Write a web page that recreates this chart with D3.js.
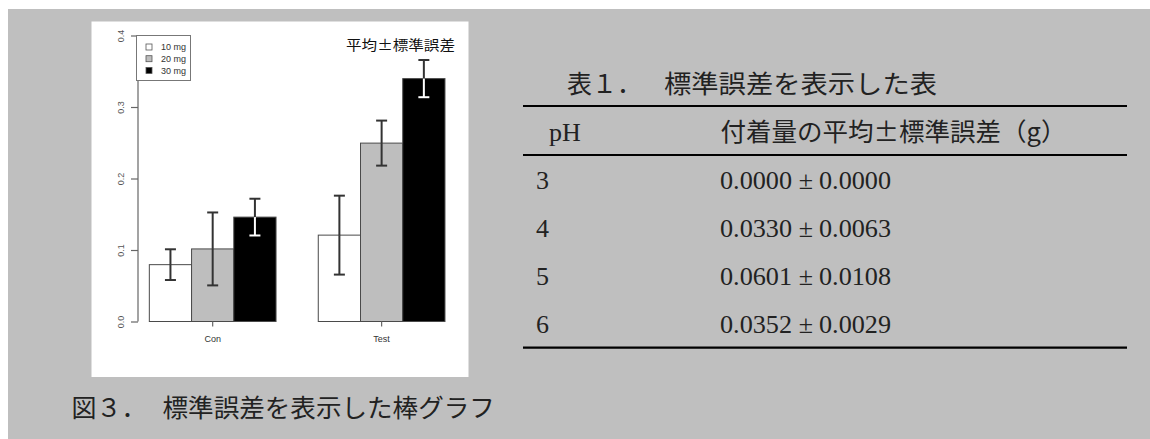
<!DOCTYPE html>
<html>
<head>
<meta charset="utf-8">
<script src="https://cdn.jsdelivr.net/npm/d3@7"></script>
<style>
  html, body { margin: 0; padding: 0; background: #fff; }
  svg { display: block; }
</style>
</head>
<body>
<svg id="page" width="1150" height="439"></svg>
<script>
// ---- bar chart data: mean attached amount and standard error per dose ----
const categories = ["Con", "Test"];
const doseLabels = ["10 mg", "20 mg", "30 mg"];
const mean10 = [0.0795, 0.1208];
const mean20 = [0.1015, 0.2495];
const mean30 = [0.1460, 0.3397];
const se10 = [0.0215, 0.0552];
const se20 = [0.0510, 0.0315];
const se30 = [0.0257, 0.0260];
const yTicks = [0.0, 0.1, 0.2, 0.3, 0.4];

// ---- table data ----
const phLevels = ["3", "4", "5", "6"];
const tableMean = [0.0000, 0.0330, 0.0601, 0.0352];
const tableSE = [0.0000, 0.0063, 0.0108, 0.0029];

const svg = d3.select("#page");
const CJK = "'Noto Sans CJK JP', 'Noto Sans CJK SC', sans-serif";
const SERIF = "'Liberation Serif', 'DejaVu Serif', serif";
const SANS = "'Liberation Sans', Arial, sans-serif";

// page shading
svg.append("rect").attr("x", 8).attr("y", 9).attr("width", 1142).attr("height", 430)
  .attr("fill", "#bfbfbf");

// white figure panel
svg.append("rect").attr("x", 91.5).attr("y", 21.5).attr("width", 377).attr("height", 355.5)
  .attr("fill", "#ffffff");

// ---------------- bar chart ----------------
const series = [
  { label: doseLabels[0], means: mean10, se: se10, fill: "#ffffff", inner: "#333333" },
  { label: doseLabels[1], means: mean20, se: se20, fill: "#bebebe", inner: "#333333" },
  { label: doseLabels[2], means: mean30, se: se30, fill: "#000000", inner: "#ffffff" }
];

// user coordinates as in a side-by-side bar plot: groups of 3 unit-wide bars, 1 unit gap
const x = d3.scaleLinear().domain([0.72, 8.28]).range([137.5, 456.8]);
const y = d3.scaleLinear().domain([0, 0.4]).range([321.5, 35.5]);

const bars = [];
categories.forEach((c, g) => {
  series.forEach((s, i) => {
    const left = 1 + g * 4 + i;
    bars.push({ cat: c, s, left, mean: s.means[g], se: s.se[g] });
  });
});

const chart = svg.append("g");

chart.selectAll("rect.bar").data(bars).join("rect")
  .attr("class", "bar")
  .attr("x", d => x(d.left))
  .attr("width", d => x(d.left + 1) - x(d.left))
  .attr("y", d => y(d.mean))
  .attr("height", d => y(0) - y(d.mean))
  .attr("fill", d => d.s.fill)
  .attr("stroke", "#4a4a4a")
  .attr("stroke-width", 1);

// error bars: part above the bar top is dark, part inside the bar uses the series' inner colour
const eb = chart.selectAll("g.err").data(bars).join("g").attr("class", "err");
const cx = d => x(d.left + 0.5);
const capHalf = 5.5;
eb.append("line")
  .attr("x1", cx).attr("x2", cx)
  .attr("y1", d => y(d.mean + d.se)).attr("y2", d => y(d.mean))
  .attr("stroke", "#333").attr("stroke-width", 2);
eb.append("line")
  .attr("x1", d => cx(d) - capHalf).attr("x2", d => cx(d) + capHalf)
  .attr("y1", d => y(d.mean + d.se)).attr("y2", d => y(d.mean + d.se))
  .attr("stroke", "#333").attr("stroke-width", 2);
eb.append("line")
  .attr("x1", cx).attr("x2", cx)
  .attr("y1", d => y(d.mean)).attr("y2", d => y(d.mean - d.se))
  .attr("stroke", d => d.s.inner).attr("stroke-width", 2);
eb.append("line")
  .attr("x1", d => cx(d) - capHalf).attr("x2", d => cx(d) + capHalf)
  .attr("y1", d => y(d.mean - d.se)).attr("y2", d => y(d.mean - d.se))
  .attr("stroke", d => d.s.inner).attr("stroke-width", 2);

// y axis
const yAxis = d3.axisLeft(y).tickValues(yTicks).tickFormat(d3.format(".1f")).tickSize(7).tickPadding(0);
const ya = chart.append("g").attr("transform", "translate(138,0)").call(yAxis);
ya.select(".domain").attr("stroke", "#666").attr("stroke-width", 1.2).attr("d", `M0,${y(0)}V${y(0.4)}`);
ya.selectAll(".tick line").attr("stroke", "#666").attr("stroke-width", 1.2);
ya.selectAll(".tick text")
  .attr("font-family", SANS).attr("font-size", 9).attr("fill", "#555")
  .attr("text-anchor", "middle")
  .attr("x", 0).attr("y", 0)
  .attr("dy", "0.35em")
  .attr("transform", "translate(-17.5,0) rotate(-90)");

// x group labels with short ticks
const xa = chart.append("g");
categories.forEach((c, g) => {
  const gx = x(1 + g * 4 + 1.5);
  xa.append("line").attr("x1", gx).attr("x2", gx).attr("y1", y(0)).attr("y2", y(0) + 5)
    .attr("stroke", "#666").attr("stroke-width", 1.2);
  xa.append("text").attr("x", gx).attr("y", 341.5)
    .attr("text-anchor", "middle").attr("font-family", SANS).attr("font-size", 9)
    .attr("fill", "#333").text(c);
});

// legend
const lg = chart.append("g");
lg.append("rect").attr("x", 136.5).attr("y", 35.5).attr("width", 54).attr("height", 45)
  .attr("fill", "#fff").attr("stroke", "#777").attr("stroke-width", 1);
series.forEach((s, i) => {
  const ly = 47 + i * 11.7;
  lg.append("rect").attr("x", 146).attr("y", ly - 3).attr("width", 6).attr("height", 6)
    .attr("fill", s.fill).attr("stroke", "#555").attr("stroke-width", 0.8);
  lg.append("text").attr("x", 161).attr("y", ly).attr("dy", "0.35em")
    .attr("font-family", SANS).attr("font-size", 9).attr("fill", "#333").text(s.label);
});

// in-plot title
chart.append("text").attr("x", 346).attr("y", 45).attr("dy", "0.36em")
  .attr("font-family", CJK).attr("font-size", 13.5).attr("fill", "#111")
  .attr("textLength", 109).attr("lengthAdjust", "spacingAndGlyphs")
  .text("平均±標準誤差");

// figure caption
svg.append("text").attr("x", 71.5).attr("y", 408).attr("dy", "0.36em")
  .attr("font-family", CJK).attr("font-size", 25).attr("fill", "#222").text("図３．");
svg.append("text").attr("x", 162.5).attr("y", 408).attr("dy", "0.36em")
  .attr("font-family", CJK).attr("font-size", 25).attr("fill", "#222")
  .attr("textLength", 13 * 25.8 - 3).attr("lengthAdjust", "spacingAndGlyphs")
  .text("標準誤差を表示した棒グラフ");

// ---------------- table ----------------
const tbl = svg.append("g");
tbl.append("text").attr("x", 567).attr("y", 84).attr("dy", "0.36em")
  .attr("font-family", CJK).attr("font-size", 25).attr("fill", "#222").text("表１．");
tbl.append("text").attr("x", 664).attr("y", 84).attr("dy", "0.36em")
  .attr("font-family", CJK).attr("font-size", 25).attr("fill", "#222")
  .attr("textLength", 273).attr("lengthAdjust", "spacingAndGlyphs")
  .text("標準誤差を表示した表");

[106, 155, 347.7].forEach(ly => {
  tbl.append("line").attr("x1", 523).attr("x2", 1127).attr("y1", ly).attr("y2", ly)
    .attr("stroke", "#000").attr("stroke-width", 2.2);
});

tbl.append("text").attr("x", 549).attr("y", 140.5)
  .attr("font-family", SERIF).attr("font-size", 26).attr("fill", "#222").text("pH");
tbl.append("text").attr("x", 720.5).attr("y", 131.5).attr("dy", "0.36em")
  .attr("font-family", CJK).attr("font-size", 25).attr("fill", "#222")
  .attr("textLength", 346).attr("lengthAdjust", "spacingAndGlyphs")
  .text("付着量の平均±標準誤差（g）");

const fmt = d3.format(".4f");
const rowY = d3.scalePoint().domain(phLevels).range([189.3, 332.7]);
phLevels.forEach((p, i) => {
  const by = rowY(p);
  tbl.append("text").attr("x", 536).attr("y", by)
    .attr("font-family", SERIF).attr("font-size", 26).attr("fill", "#222").text(p);
  tbl.append("text").attr("x", 720).attr("y", by)
    .attr("font-family", SERIF).attr("font-size", 26).attr("fill", "#222")
    .attr("textLength", 72).attr("lengthAdjust", "spacingAndGlyphs").text(fmt(tableMean[i]));
  tbl.append("text").attr("x", 806).attr("y", by)
    .attr("text-anchor", "middle")
    .attr("font-family", SERIF).attr("font-size", 26).attr("fill", "#222").text("±");
  tbl.append("text").attr("x", 819).attr("y", by)
    .attr("font-family", SERIF).attr("font-size", 26).attr("fill", "#222")
    .attr("textLength", 72).attr("lengthAdjust", "spacingAndGlyphs").text(fmt(tableSE[i]));
});
</script>
</body>
</html>
